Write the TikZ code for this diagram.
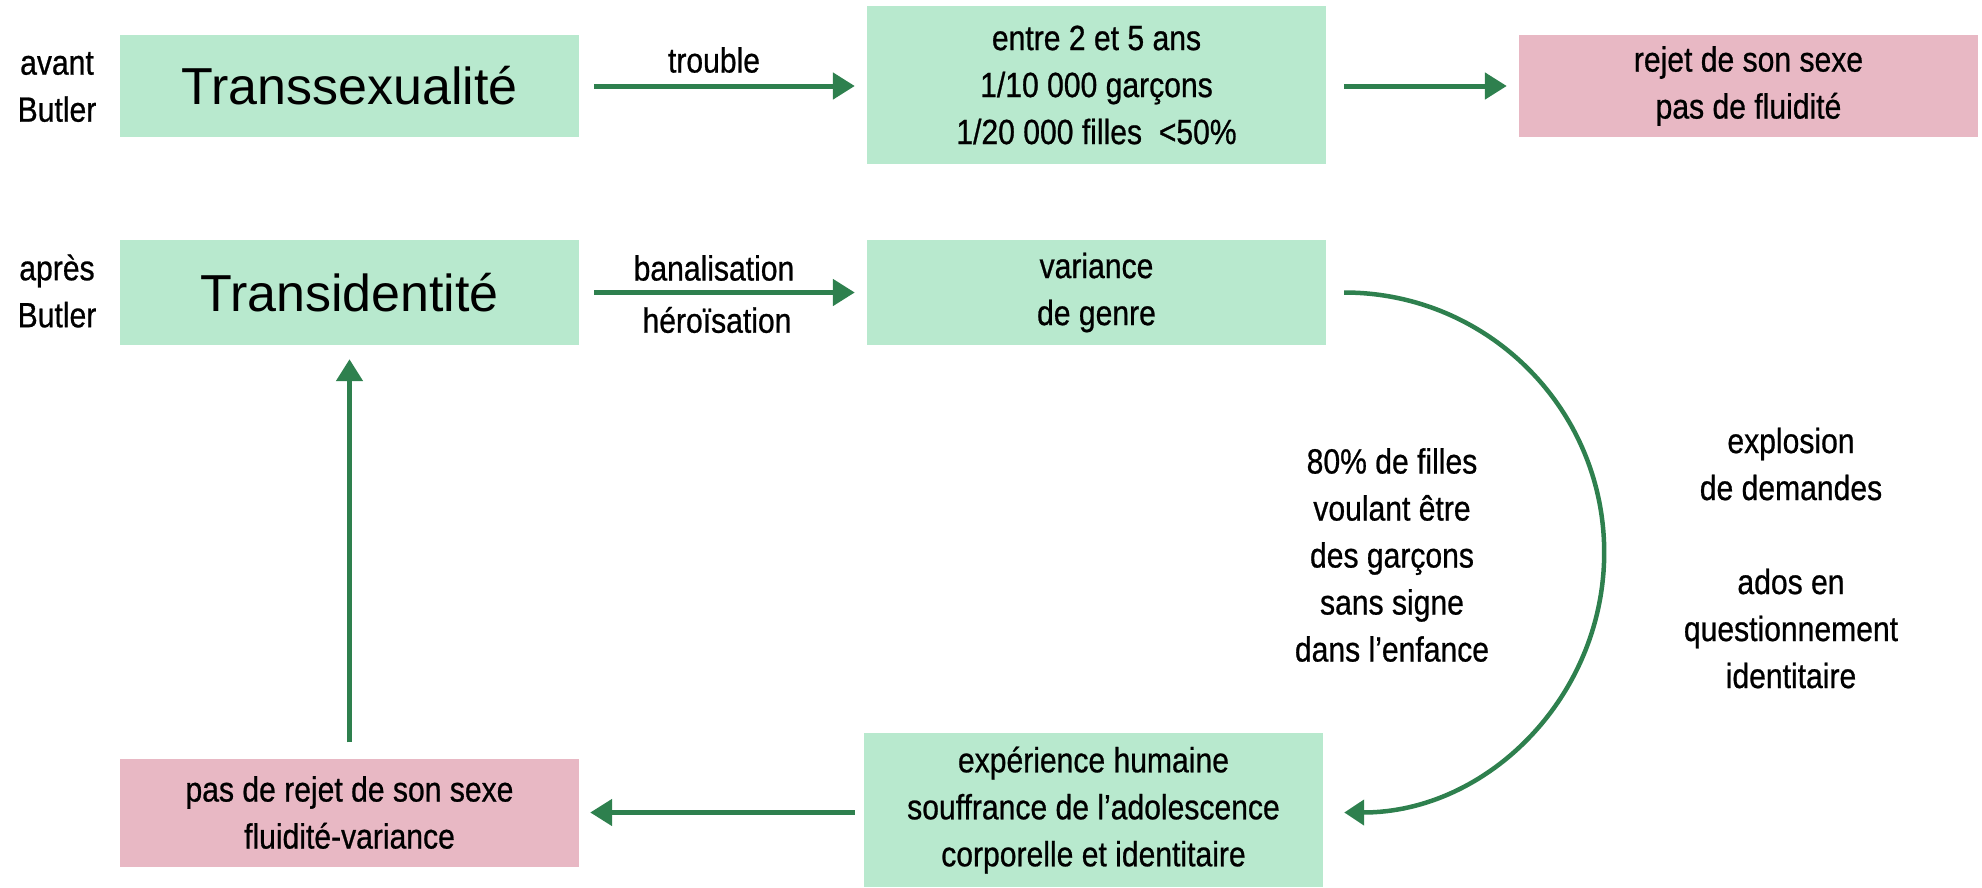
\documentclass[tikz,border=0pt]{standalone}
\usepackage{fontspec}
\setmainfont{Liberation Sans}
\newfontfamily\condf{Liberation Sans}[FakeStretch=0.86, FakeBold=0.7]
\usetikzlibrary{arrows.meta}
\definecolor{boxgreen}{HTML}{B8E9CE}
\definecolor{boxpink}{HTML}{E8B8C4}
\definecolor{arrgreen}{HTML}{2E804E}
\begin{document}
\begin{tikzpicture}[x=1pt,y=-1pt,
  box/.style={fill=boxgreen, draw=none, inner sep=0pt, minimum width=459pt, align=center, font=\condf\fontsize{35}{47}\selectfont},
  pbox/.style={box, fill=boxpink},
  titlefont/.style={font=\fontsize{52}{60}\selectfont},
  txt/.style={inner sep=0pt, align=center, font=\condf\fontsize{35}{47}\selectfont},
  arr/.style={draw=arrgreen, line width=5pt, -{Triangle[length=22pt,width=26pt]}},
  carr/.style={draw=arrgreen, line width=4.5pt, -{Triangle[length=20pt,width=25pt]}}
]
\useasboundingbox (0,0) rectangle (1982,887);

% row 1
\node[txt] (avant) at (57,87) {avant\\Butler};
\node[box, minimum height=102pt, titlefont] (trans) at (349.5,86) {Transsexualité};
\node[box, minimum height=158pt] (age) at (1096.5,85) {entre 2 et 5 ans\\1/10 000 garçons\\1/20 000 filles\ \ <50\%};
\node[pbox, minimum height=102pt] (rejet) at (1748.5,86) {rejet de son sexe\\pas de fluidité};

% row 2
\node[txt] (apres) at (57,291) {après\\Butler};
\node[box, minimum height=105pt, titlefont] (transid) at (349.5,292.5) {Transidentité};
\node[box, minimum height=105pt] (var) at (1096.5,292.5) {variance\\de genre};

% bottom row
\node[pbox, minimum height=108pt] (fluid) at (349.5,812.5) {pas de rejet de son sexe\\fluidité-variance};
\node[box, minimum height=154pt] (exp) at (1093.5,810) {expérience humaine\\souffrance de l’adolescence\\corporelle et identitaire};

% free texts
\node[txt] (filles) at (1392,555) {80\% de filles\\voulant être\\des garçons\\sans signe\\dans l’enfance};
\node[txt] (explo) at (1791,558) {explosion\\de demandes\\[47pt]ados en\\questionnement\\identitaire};

% labels
\node[txt] (ltrouble) at (714,60) {trouble};
\node[txt] (lbanal) at (714,268) {banalisation};
\node[txt] (lhero) at (717,320) {héroïsation};

% arrows
\draw[arr, shorten <=15pt, shorten >=12pt] (trans.east) -- (trans.east -| age.west);
\draw[arr, shorten <=18pt, shorten >=12pt] (age.east |- rejet.west) -- (rejet.west);
\draw[arr, shorten <=15pt, shorten >=12pt] (transid.east) -- (var.west);
\draw[carr] ([xshift=18pt]var.east) arc[start angle=90, end angle=-90, radius=260pt];
\draw[arr, shorten <=9pt, shorten >=11pt] (exp.west |- fluid.east) -- (fluid.east);
\draw[arr, shorten <=16pt, shorten >=14pt] (fluid.north) -- (transid.south);
\end{tikzpicture}
\end{document}
